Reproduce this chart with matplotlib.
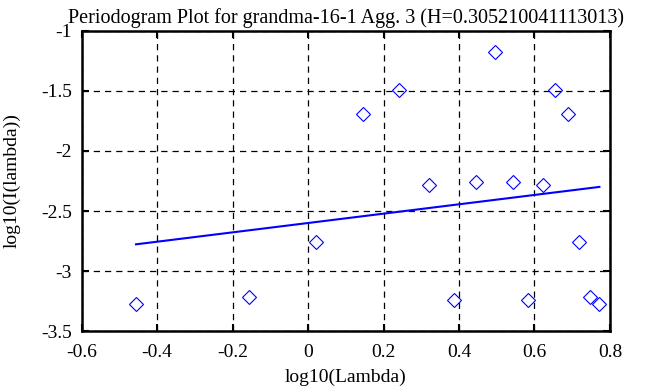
import matplotlib
matplotlib.use("Agg")
import matplotlib.pyplot as plt
import numpy as np

plt.rcParams['font.family'] = ['Liberation Serif', 'DejaVu Serif']

# log10 frequency vs log10 periodogram
log_lambda = np.array([-0.456, -0.156, 0.021, 0.145, 0.242, 0.320, 0.387, 0.445,
                       0.496, 0.543, 0.583, 0.622, 0.655, 0.689, 0.718, 0.746, 0.772])
log_i = np.array([-3.272, -3.217, -2.756, -1.692, -1.494, -2.281, -3.244, -2.258,
                  -1.172, -2.258, -3.244, -2.281, -1.494, -1.692, -2.756, -3.217, -3.275])

H = 0.305210041113013
slope = 1 - 2 * H
intercept = -2.600

fit_x = np.array([log_lambda.min(), log_lambda.max()])
fit_y = intercept + slope * fit_x

fig = plt.figure(figsize=(6.63, 3.87), dpi=100)
ax = fig.add_axes([0.1232, 0.1447, 0.7968, 0.7752])

ax.plot(log_lambda, log_i, linestyle='none', marker='D', markersize=7.1,
        markerfacecolor='none', markeredgecolor='blue', markeredgewidth=0.8)
ax.plot(fit_x, fit_y, color='blue', lw=1.5)

ax.set_xlim(-0.6, 0.8)
ax.set_ylim(-3.5, -1)
ax.set_xticks(np.arange(-0.6, 0.81, 0.2))
ax.set_yticks(np.arange(-3.5, -0.99, 0.5))
ax.set_xticklabels(['-0.6', '-0.4', '-0.2', '0', '0.2', '0.4', '0.6', '0.8'])
ax.set_yticklabels(['-3.5', '-3', '-2.5', '-2', '-1.5', '-1'])

ax.grid(True, color='black', linestyle=(0, (5, 4)), lw=0.9)
ax.tick_params(direction='in', length=5, width=1.5, top=True, right=True,
               labelsize=14)
ax.tick_params(axis='x', pad=9)
ax.tick_params(axis='y', pad=7)
for s in ax.spines.values():
    s.set_linewidth(1.8)

ax.set_title('Periodogram Plot for grandma-16-1 Agg. 3 (H=0.305210041113013)',
             fontsize=14.5, pad=6)
ax.set_xlabel('log10(Lambda)', fontsize=14, labelpad=6)
ax.set_ylabel('log10(I(lambda))', fontsize=14, labelpad=15)

fig.savefig('out.png', dpi=100)
